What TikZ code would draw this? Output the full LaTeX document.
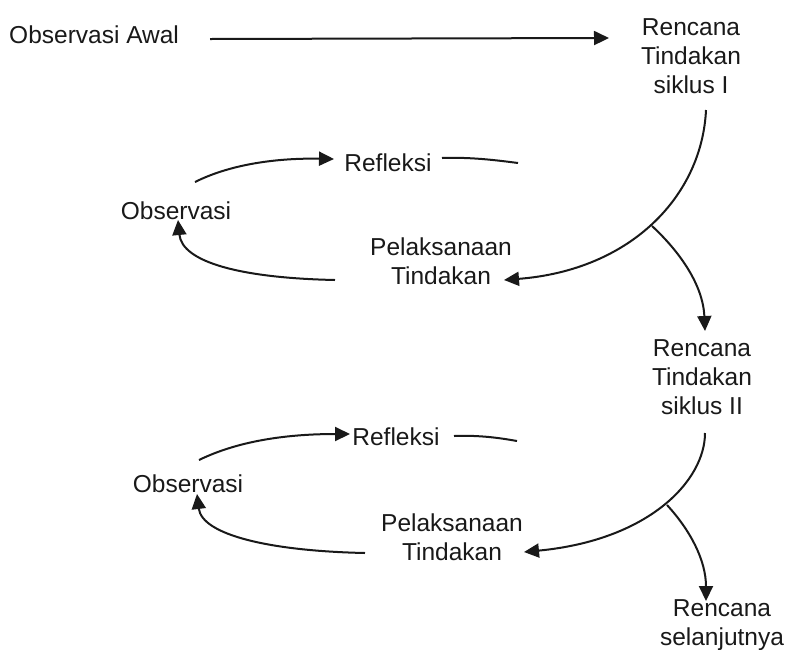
\documentclass[tikz,border=0pt]{standalone}
\usepackage{fontspec}
\setmainfont{Liberation Sans}
\usetikzlibrary{arrows.meta}
\begin{document}
\begin{tikzpicture}[x=1pt,y=-1pt,
  lbl/.style={inner sep=0pt,align=center,text=black!90,font=\fontsize{24.5}{29}\selectfont},
  conn/.style={line width=2pt,draw=black!90},
  arr/.style={conn,-{Triangle[length=15pt,width=14pt]}}]
\useasboundingbox (0,0) rectangle (793,649);
% top
\node[lbl,anchor=base west] (obsawal) at (9,43) {Observasi Awal};
\node[lbl] (ren1) at (691,56) {Rencana\\Tindakan\\siklus I};
\coordinate (a0) at (210,39);
\coordinate (a1) at (609,38);
\draw[arr] (a0) -- (a1);
% cycle 1
\node[lbl] (obs1) at (176,211) {Observasi};
\node[lbl] (ref1) at (388,163) {Refleksi};
\node[lbl] (pel1) at (441,261) {Pelaksanaan\\Tindakan};
\coordinate (c1s) at (706,110);
\coordinate (c1e) at (504,280);
\coordinate (j1) at (652,226);
\coordinate (b1e) at (705,331);
\coordinate (l1s) at (335,280);
\coordinate (l1e) at (178,220);
\coordinate (u1s) at (195,182);
\coordinate (u1e) at (334,159);
\coordinate (s1s) at (442,158);
\coordinate (s1e) at (518,163);
\draw[arr] (c1s) .. controls (702,195) and (632,270) .. (c1e);
\draw[arr] (j1) .. controls (680,252) and (703,285) .. (b1e);
\draw[arr] (l1s) .. controls (240,278) and (182,262) .. (l1e);
\draw[arr] (u1s) .. controls (235,162) and (285,158) .. (u1e);
\draw[conn] (s1s) .. controls (470,157) and (495,160) .. (s1e);
% cycle 2
\node[lbl] (ren2) at (702,377) {Rencana\\Tindakan\\siklus II};
\node[lbl] (obs2) at (188,484) {Observasi};
\node[lbl] (ref2) at (396,437) {Refleksi};
\node[lbl] (pel2) at (452,537) {Pelaksanaan\\Tindakan};
\node[lbl] (ren3) at (722,625) {Rencana\\selanjutnya};
\coordinate (c2s) at (705,433);
\coordinate (c2e) at (524,552);
\coordinate (j2) at (667,505);
\coordinate (b2e) at (706,601);
\coordinate (l2s) at (365,553);
\coordinate (l2e) at (197,494);
\coordinate (u2s) at (199,460);
\coordinate (u2e) at (350,434);
\coordinate (s2s) at (454,436);
\coordinate (s2e) at (517,441);
\draw[arr] (c2s) .. controls (705,480) and (650,540) .. (c2e);
\draw[arr] (j2) .. controls (690,530) and (706,560) .. (b2e);
\draw[arr] (l2s) .. controls (270,551) and (202,535) .. (l2e);
\draw[arr] (u2s) .. controls (240,440) and (290,434) .. (u2e);
\draw[conn] (s2s) .. controls (480,435) and (500,438) .. (s2e);
\end{tikzpicture}
\end{document}
